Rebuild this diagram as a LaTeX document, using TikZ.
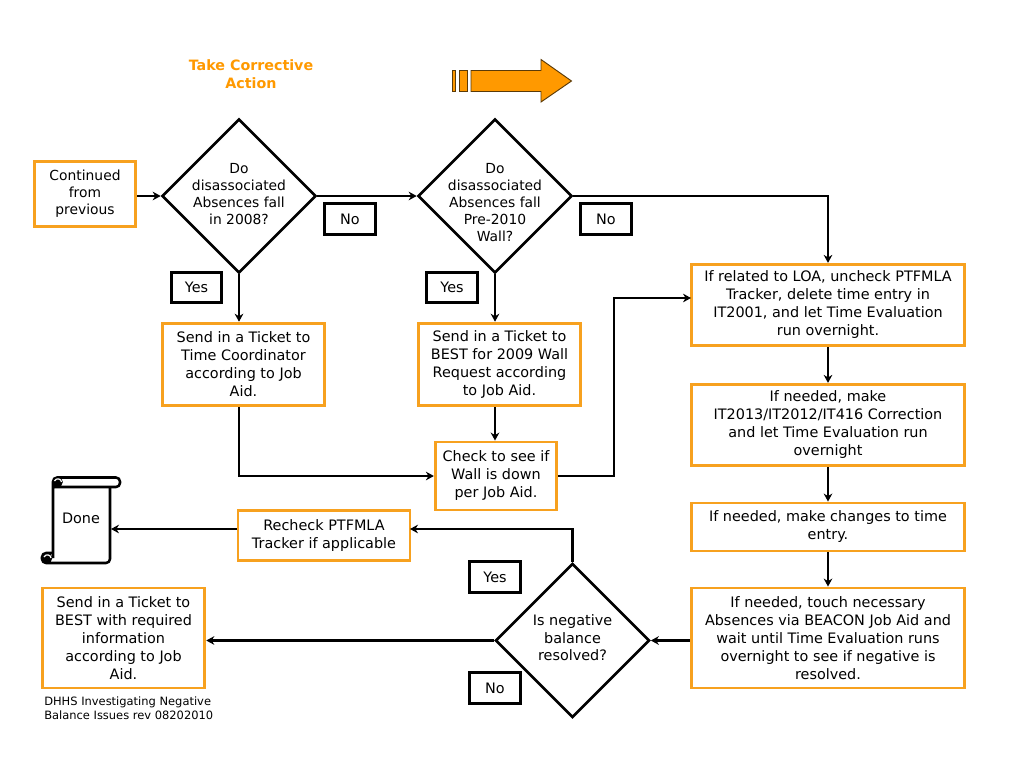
\documentclass[tikz,border=0pt]{standalone}
\usepackage{fontspec}
\setmainfont{DejaVu Sans}
\usepackage{xcolor}
\usetikzlibrary{arrows.meta,positioning,shapes.geometric}
\definecolor{boxorange}{HTML}{F7A11F}
\definecolor{arroworange}{HTML}{FF9900}
\definecolor{arrowedge}{HTML}{5A3A08}
\tikzset{
  every node/.style={font=\fontsize{10.8}{13.5}\selectfont},
  proc/.style={draw=boxorange,line width=2.2pt,fill=white,align=center,inner sep=0pt},
  decision/.style={draw=black,line width=2pt,diamond,aspect=1,align=center,
    minimum width=115.5pt,minimum height=115.5pt,inner sep=-40pt,font=\fontsize{10.4}{12.8}\selectfont},
  tagbox/.style={draw=black,line width=2.1pt,minimum width=38pt,minimum height=23pt,inner sep=0pt},
  link/.style={-{Stealth[length=6pt,width=6.5pt]},line width=1.8pt},
  scrollline/.style={line width=1.9pt,line join=round,rounded corners=3pt}
}
\begin{document}
\begin{tikzpicture}[x=0.75pt,y=-0.75pt]
  \useasboundingbox (0,0) rectangle (1024,768);
  % Heading
  \node[text=arroworange,font=\fontsize{10.7}{13.4}\selectfont\bfseries,align=center] (title) at (251,74) {Take Corrective\\Action};
  \begin{scope}[fill=arroworange,draw=arrowedge,line width=0.7pt]
    \filldraw (452,70.5) rectangle (455.5,91.5);
    \filldraw (459,70.5) rectangle (467,91.5);
    \filldraw (471,70.5) -- (541,70.5) -- (541,59.5) -- (571.5,81) -- (541,102) -- (541,91.5) -- (471,91.5) -- cycle;
  \end{scope}
  % Top row
  \node[proc,minimum width=76pt,minimum height=49pt,font=\fontsize{10.4}{12.8}\selectfont] (cont) at (85,194) {Continued\\from\\previous};
  \node[decision] (dq1) at (239,196) {Do\\disassociated\\Absences fall\\in 2008?\rule[-3pt]{0pt}{3pt}};
  \node[decision] (dq2) at (495,196) {\rule{0pt}{17pt}Do\\disassociated\\Absences fall\\Pre-2010\\Wall?};
  \node[tagbox] (no1) at (350,219) {No};
  \node[tagbox] (no2) at (606,219) {No};
  \node[tagbox] (yes1) at (196.5,287.5) {Yes};
  \node[tagbox] (yes2) at (452,287.5) {Yes};
  % Tickets
  \node[proc,minimum width=122pt,minimum height=62pt] (tk1) at (243.5,364.5) {Send in a Ticket to\\Time Coordinator\\according to Job\\Aid.};
  \node[proc,minimum width=122pt,minimum height=62pt] (tk2) at (499.5,364.5) {Send in a Ticket to\\BEST for 2009 Wall\\Request according\\to Job Aid.};
  \node[proc,minimum width=91pt,minimum height=51pt] (check) at (496,476) {Check to see if\\Wall is down\\per Job Aid.};
  % Right column
  \node[proc,minimum width=205pt,minimum height=61pt] (fix1) at (828,305) {If related to LOA, uncheck PTFMLA\\Tracker, delete time entry in\\IT2001, and let Time Evaluation\\run overnight.};
  \node[proc,minimum width=205pt,minimum height=61pt] (fix2) at (828,425) {If needed, make\\IT2013/IT2012/IT416 Correction\\and let Time Evaluation run\\overnight};
  \node[proc,minimum width=205pt,minimum height=36pt] (fix3) at (828,527) {If needed, make changes to time\\entry.};
  \node[proc,minimum width=205pt,minimum height=75pt] (fix4) at (828,638) {If needed, touch necessary\\Absences via BEACON Job Aid and\\wait until Time Evaluation runs\\overnight to see if negative is\\resolved.};
  % Bottom row
  \node[decision,font=\fontsize{10.8}{13}\selectfont] (dq3) at (572.5,640.5) {Is negative\\balance\\resolved?\rule[-4pt]{0pt}{4pt}};
  \node[tagbox] (yes3) at (495,577) {Yes};
  \node[tagbox] (no3) at (495,688) {No};
  \node[proc,minimum width=129pt,minimum height=37pt] (recheck) at (324,535.5) {Recheck PTFMLA\\Tracker if applicable};
  \node[proc,minimum width=122pt,minimum height=75pt] (send) at (123.5,638) {Send in a Ticket to\\BEST with required\\information\\according to Job\\Aid.};
  \node[font=\fontsize{8.6}{10.6}\selectfont,align=left,anchor=north west,inner sep=0pt] (rev) at (44,696.5) {DHHS Investigating Negative\\Balance Issues rev 08202010};
  % Scroll
  \draw[scrollline] (53,558) -- (53,477.5) -- (120,477.5) -- (120,487) -- (53,487);
  \draw[scrollline] (110,487) -- (110,563) -- (42,563) -- (42,553) -- (53,553);
  \fill (57.5,482) circle[radius=4pt];
  \fill (47,558) circle[radius=4pt];
  \draw[white,line width=0.9pt] (54.5,481) .. controls (56,477.5) and (61.5,478.5) .. (61.5,482);
  \draw[white,line width=0.9pt] (44,557) .. controls (45.5,553.5) and (51,554.5) .. (51,558);
  \node (done) at (81,518) {Done};
  \coordinate (donein) at (111,529);
  \coordinate (recheckin) at (410,529);
  \coordinate (fix1in) at (691,298);
  % Connectors
  \draw[link] (cont.east |- dq1.west) -- (dq1.west);
  \draw[link] (dq1.east) -- (dq2.west);
  \draw[link] (dq2.east) -| (fix1.north);
  \draw[link] (dq1.south) -- (dq1.south |- tk1.north);
  \draw[link] (dq2.south) -- (dq2.south |- tk2.north);
  \draw[link] (dq2.south |- tk2.south) -- (dq2.south |- check.north);
  \draw[link] (dq1.south |- tk1.south) |- (check.west);
  \draw[link] (check.east) -- +(56,0) |- (fix1in);
  \draw[link] (fix1) -- (fix2);
  \draw[link] (fix2) -- (fix3);
  \draw[link] (fix3) -- (fix4);
  \draw[link] (fix4.west |- dq3.east) -- (dq3.east);
  \draw[link] (dq3.north) |- (recheckin);
  \draw[link] (recheck.west |- donein) -- (donein);
  \draw[link] (dq3.west) -- (send.east |- dq3.west);
\end{tikzpicture}
\end{document}
